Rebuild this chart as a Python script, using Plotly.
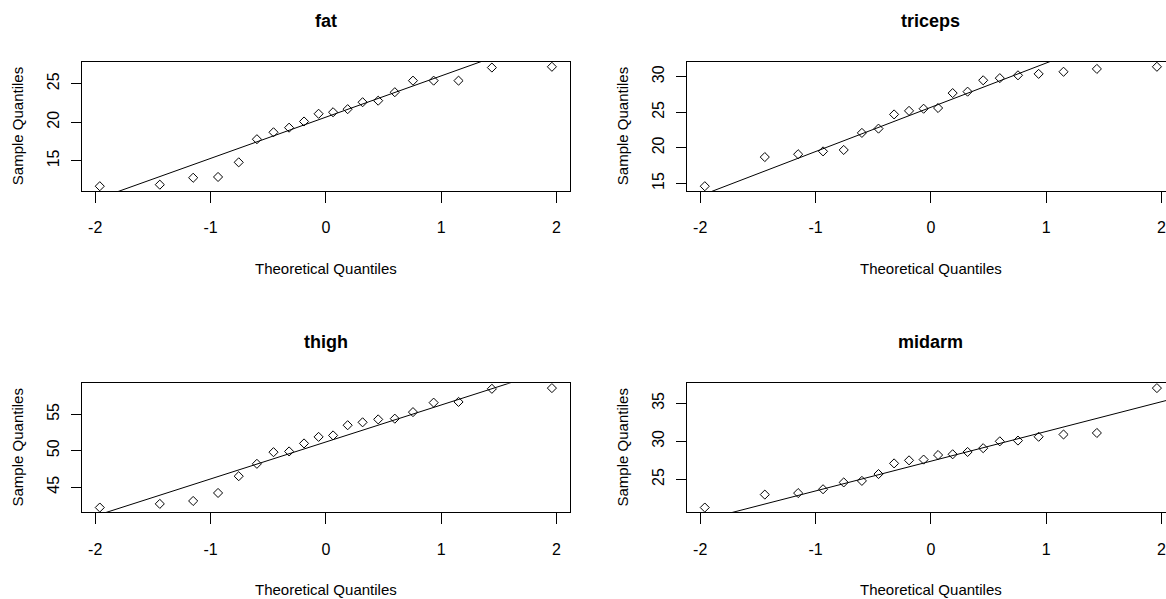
import numpy as np
import plotly.graph_objects as go

# Body fat data (20 subjects)
triceps = [19.5, 24.7, 30.7, 29.8, 19.1, 25.6, 31.4, 27.9, 22.1, 25.5,
           31.1, 30.4, 18.7, 19.7, 14.6, 29.5, 27.7, 30.2, 22.7, 25.2]
thigh = [43.1, 49.8, 51.9, 54.3, 42.2, 53.9, 58.5, 52.1, 49.9, 53.5,
         56.6, 56.7, 46.5, 44.2, 42.7, 54.4, 55.3, 58.6, 48.2, 51.0]
midarm = [29.1, 28.2, 37.0, 31.1, 30.9, 23.7, 27.6, 30.6, 23.2, 24.8,
          30.0, 28.3, 23.0, 28.6, 21.3, 30.1, 25.7, 24.6, 27.1, 27.5]
fat = [11.9, 22.8, 18.7, 20.1, 12.9, 21.7, 27.1, 25.4, 21.3, 19.3,
       25.4, 27.2, 11.7, 17.8, 12.8, 23.9, 22.6, 25.4, 14.8, 21.1]

# Normal scores for n = 20 (plotting positions (i - 0.5) / n)
theoretical = [-1.959964, -1.439531, -1.150349, -0.934589, -0.755415,
               -0.597760, -0.453762, -0.318639, -0.189118, -0.062707,
               0.062707, 0.189118, 0.318639, 0.453762, 0.597760,
               0.755415, 0.934589, 1.150349, 1.439531, 1.959964]
quartile_z = 0.6744898

x_ticks = [-2, -1, 0, 1, 2]
x_tick_text = ["-2", "-1", "0", "1", "2"]

panels = [("fat", fat), ("triceps", triceps), ("thigh", thigh), ("midarm", midarm)]

W, H = 1166, 599
FONT = "Liberation Sans, Arial, sans-serif"

# plot-region boxes in pixels: (left, right, top, bottom); right column runs past the page edge
full_w = 488.3
boxes = [(81.7, 81.7 + full_w, 62.0, 191.0),
         (686.7, 686.7 + full_w, 62.0, 191.0),
         (81.7, 81.7 + full_w, 383.3, 512.3),
         (686.7, 686.7 + full_w, 383.3, 512.3)]


def px(x):
    return x / W


def py(y):
    return 1 - y / H


def padded(lo, hi):
    d = (hi - lo) * 0.04
    return lo - d, hi + d


fig = go.Figure()
annotations = []

for i, ((name, values), (l, r, t, b)) in enumerate(zip(panels, boxes), start=1):
    sample = np.sort(np.array(values, dtype=float))
    z = np.array(theoretical)

    xlo, xhi = padded(z.min(), z.max())
    ylo, yhi = padded(sample.min(), sample.max())

    # clip the box to the page width
    r_vis = min(r, W)
    x_hi_vis = xlo + (xhi - xlo) * (r_vis - l) / (r - l)

    q1, q3 = np.quantile(sample, [0.25, 0.75])
    slope = (q3 - q1) / (2 * quartile_z)
    intercept = q1 + slope * quartile_z

    xa = "x" if i == 1 else f"x{i}"
    ya = "y" if i == 1 else f"y{i}"

    fig.add_trace(go.Scatter(
        x=z, y=sample, mode="markers", xaxis=xa, yaxis=ya,
        marker=dict(symbol="diamond-open", size=7, color="black",
                    line=dict(color="black", width=1)),
        showlegend=False, hoverinfo="x+y"))

    line_x = np.array([xlo, xhi])
    fig.add_trace(go.Scatter(
        x=line_x, y=intercept + slope * line_x, mode="lines",
        xaxis=xa, yaxis=ya, line=dict(color="black", width=1),
        showlegend=False, hoverinfo="skip"))

    y_ticks = [v for v in range(0, 100, 5) if ylo <= v <= yhi]

    axis_common = dict(showgrid=False, zeroline=False, showline=True,
                       linecolor="black", linewidth=1, ticks="outside",
                       tickcolor="black", tickwidth=1,
                       tickfont=dict(family=FONT, size=16, color="black"))

    fig.update_layout(**{
        ("xaxis" if i == 1 else f"xaxis{i}"): dict(
            domain=[px(l), px(r_vis)], range=[xlo, x_hi_vis],
            anchor=ya, mirror=True, ticklen=11,
            tickvals=x_ticks, ticktext=x_tick_text,
            ticklabelstandoff=11, ticklabeloverflow="allow", **axis_common),
        ("yaxis" if i == 1 else f"yaxis{i}"): dict(
            domain=[py(b), py(t)], range=[ylo, yhi],
            anchor=xa, mirror=(r <= W), ticklen=10,
            tickvals=y_ticks, ticktext=[str(v) for v in y_ticks],
            tickangle=-90, ticklabelstandoff=5, **axis_common),
    })

    cx = (l + r) / 2
    annotations.append(dict(
        text=f"<b>{name}</b>", x=px(cx), y=py(t - 41), xref="paper", yref="paper",
        showarrow=False, xanchor="center", yanchor="middle",
        font=dict(family=FONT, size=18, color="black")))
    annotations.append(dict(
        text="Theoretical Quantiles", x=px(cx), y=py(b + 77), xref="paper", yref="paper",
        showarrow=False, xanchor="center", yanchor="middle",
        font=dict(family=FONT, size=15, color="black")))
    annotations.append(dict(
        text="Sample Quantiles", x=px(l - 64), y=py((t + b) / 2), xref="paper", yref="paper",
        showarrow=False, xanchor="center", yanchor="middle", textangle=-90,
        font=dict(family=FONT, size=15, color="black")))

fig.update_layout(
    width=W, height=H,
    margin=dict(l=0, r=0, t=0, b=0),
    paper_bgcolor="white", plot_bgcolor="white",
    annotations=annotations,
    font=dict(family=FONT, color="black"),
)

fig.write_html("out.html")
